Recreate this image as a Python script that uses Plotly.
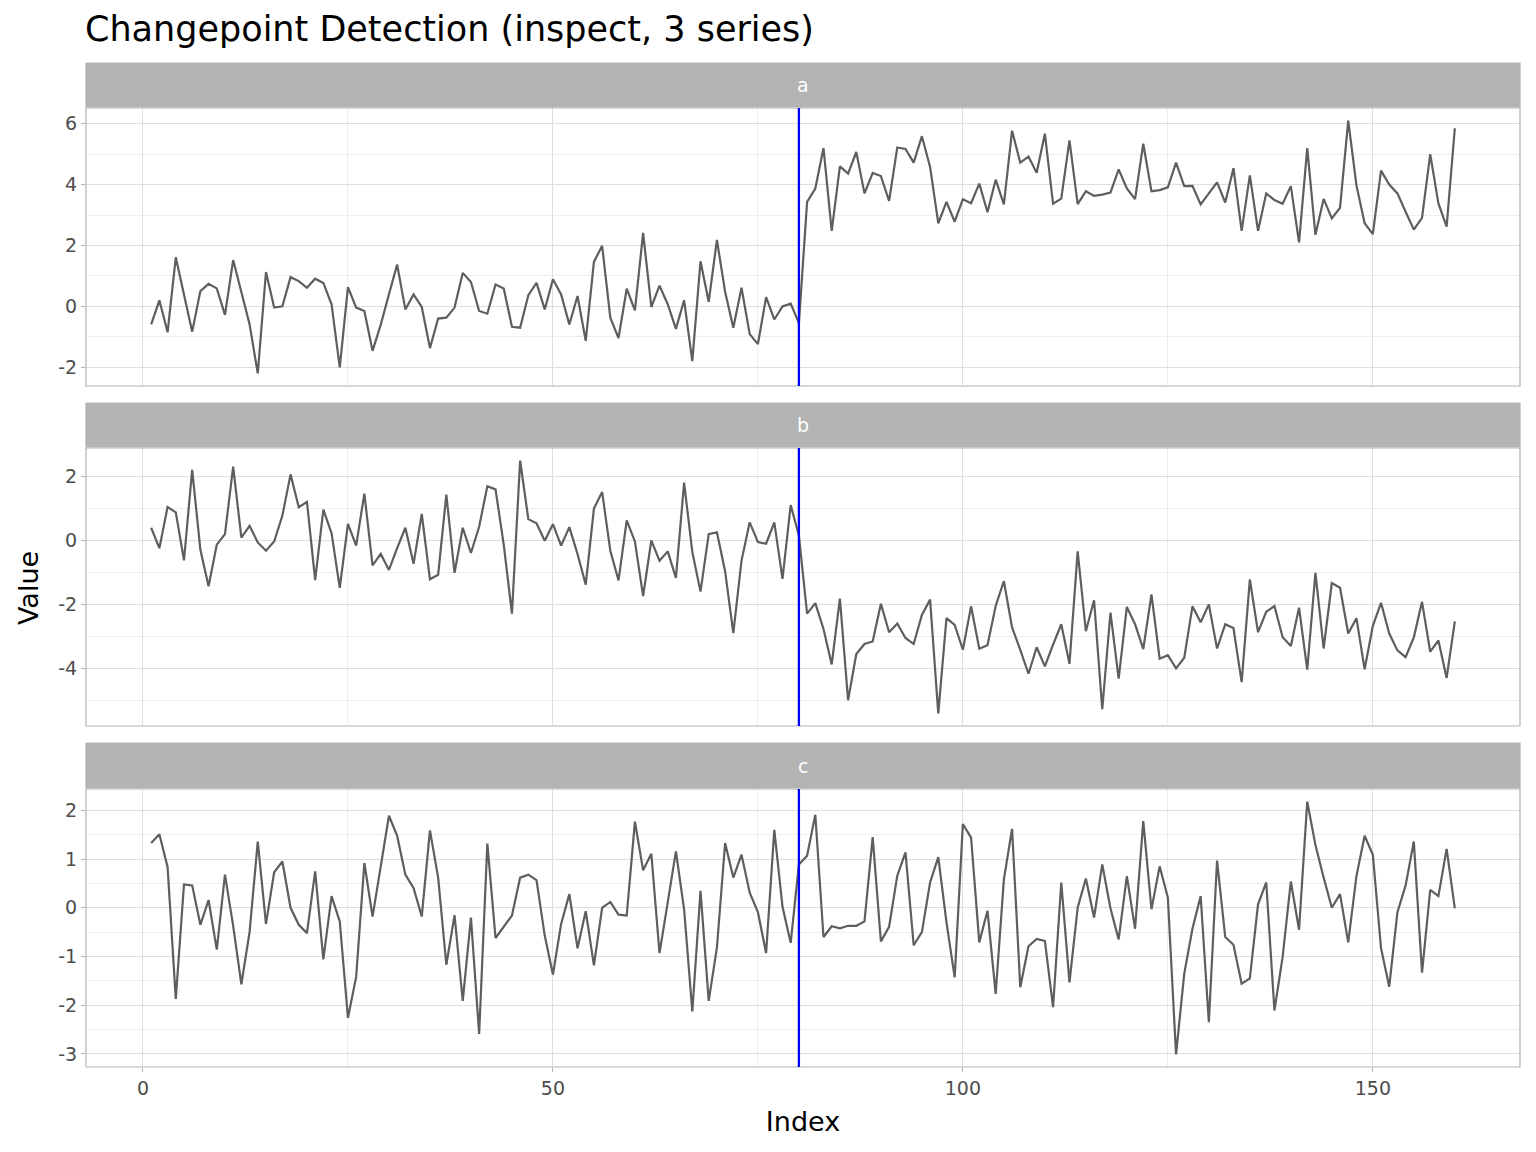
import plotly.graph_objects as go

# ---------------- data ----------------
series_names = ["a", "b", "c"]
changepoint = 80
index = list(range(1, 161))

values_a = [
    -0.59, 0.20, -0.85, 1.61, 0.39, -0.83, 0.50, 0.74, 0.59, -0.28,
    1.52, 0.45, -0.59, -2.20, 1.13, -0.04, 0.00, 0.96, 0.83, 0.61,
    0.91, 0.77, 0.07, -2.00, 0.63, -0.04, -0.15, -1.46, -0.60, 0.40,
    1.37, -0.10, 0.39, -0.02, -1.37, -0.40, -0.37, -0.04, 1.10, 0.80,
    -0.15, -0.24, 0.72, 0.59, -0.67, -0.70, 0.37, 0.77, -0.10, 0.89,
    0.39, -0.59, 0.34, -1.13, 1.46, 1.99, -0.37, -1.04, 0.58, -0.13,
    2.41, -0.02, 0.68, 0.07, -0.74, 0.20, -1.80, 1.48, 0.15, 2.18,
    0.48, -0.70, 0.61, -0.91, -1.24, 0.30, -0.43, 0.00, 0.09, -0.55,
    3.43, 3.87, 5.20, 2.48, 4.60, 4.36, 5.07, 3.71, 4.38, 4.28,
    3.46, 5.22, 5.17, 4.72, 5.59, 4.58, 2.73, 3.43, 2.78, 3.52,
    3.39, 4.03, 3.09, 4.16, 3.35, 5.77, 4.72, 4.92, 4.39, 5.67,
    3.37, 3.54, 5.45, 3.36, 3.78, 3.63, 3.67, 3.74, 4.50, 3.87,
    3.52, 5.34, 3.78, 3.82, 3.91, 4.72, 3.95, 3.96, 3.35, 3.71,
    4.07, 3.41, 4.54, 2.48, 4.30, 2.48, 3.71, 3.49, 3.37, 3.95,
    2.10, 5.20, 2.35, 3.53, 2.89, 3.24, 6.10, 3.98, 2.73, 2.37,
    4.46, 4.00, 3.71, 3.11, 2.52, 2.91, 5.00, 3.38, 2.62, 5.85,
]

values_b = [
    0.40, -0.24, 1.05, 0.88, -0.62, 2.21, -0.29, -1.43, -0.13, 0.20,
    2.31, 0.09, 0.46, -0.06, -0.32, -0.03, 0.78, 2.07, 1.04, 1.21,
    -1.24, 0.97, 0.23, -1.48, 0.52, -0.16, 1.47, -0.78, -0.42, -0.92,
    -0.24, 0.40, -0.73, 0.83, -1.21, -1.07, 1.44, -1.01, 0.40, -0.39,
    0.43, 1.70, 1.60, -0.13, -2.29, 2.50, 0.67, 0.54, -0.01, 0.51,
    -0.16, 0.42, -0.42, -1.38, 1.00, 1.52, -0.32, -1.25, 0.63, -0.03,
    -1.74, 0.00, -0.63, -0.34, -1.17, 1.81, -0.36, -1.60, 0.20, 0.26,
    -0.96, -2.90, -0.63, 0.57, -0.05, -0.10, 0.57, -1.20, 1.11, 0.15,
    -2.29, -1.96, -2.77, -3.88, -1.82, -5.00, -3.55, -3.24, -3.16, -1.98,
    -2.87, -2.60, -3.05, -3.24, -2.33, -1.85, -5.41, -2.43, -2.64, -3.42,
    -2.06, -3.39, -3.28, -2.05, -1.27, -2.72, -3.42, -4.17, -3.34, -3.94,
    -3.26, -2.62, -3.86, -0.34, -2.84, -1.87, -5.28, -2.26, -4.32, -2.08,
    -2.62, -3.40, -1.69, -3.70, -3.59, -4.00, -3.67, -2.06, -2.56, -2.00,
    -3.38, -2.62, -2.74, -4.43, -1.22, -2.87, -2.23, -2.05, -3.03, -3.30,
    -2.10, -4.04, -1.01, -3.38, -1.33, -1.48, -2.91, -2.43, -4.03, -2.67,
    -1.95, -2.91, -3.44, -3.65, -3.03, -1.92, -3.48, -3.13, -4.30, -2.53,
]

values_c = [
    1.33, 1.51, 0.84, -1.87, 0.48, 0.46, -0.35, 0.16, -0.86, 0.68,
    -0.37, -1.57, -0.50, 1.36, -0.33, 0.73, 0.95, 0.00, -0.35, -0.52,
    0.75, -1.06, 0.24, -0.28, -2.26, -1.42, 0.92, -0.18, 0.85, 1.89,
    1.48, 0.68, 0.41, -0.18, 1.59, 0.62, -1.17, -0.15, -1.91, -0.20,
    -2.59, 1.32, -0.62, -0.40, -0.16, 0.62, 0.68, 0.57, -0.57, -1.37,
    -0.33, 0.28, -0.83, -0.07, -1.18, 0.00, 0.12, -0.14, -0.16, 1.77,
    0.77, 1.11, -0.93, 0.11, 1.16, -0.03, -2.13, 0.35, -1.91, -0.82,
    1.33, 0.62, 1.09, 0.31, -0.09, -0.93, 1.60, 0.02, -0.72, 0.89,
    1.07, 1.91, -0.60, -0.38, -0.42, -0.37, -0.37, -0.28, 1.45, -0.69,
    -0.39, 0.66, 1.14, -0.77, -0.50, 0.52, 1.04, -0.30, -1.43, 1.72,
    1.44, -0.71, -0.06, -1.77, 0.58, 1.62, -1.63, -0.79, -0.64, -0.68,
    -2.04, 0.52, -1.53, 0.00, 0.60, -0.20, 0.89, -0.01, -0.65, 0.65,
    -0.43, 1.78, -0.03, 0.85, 0.21, -3.01, -1.35, -0.43, 0.24, -2.35,
    0.97, -0.60, -0.76, -1.56, -1.45, 0.07, 0.52, -2.11, -1.01, 0.54,
    -0.45, 2.18, 1.29, 0.62, 0.00, 0.28, -0.71, 0.65, 1.48, 1.09,
    -0.83, -1.62, -0.09, 0.46, 1.36, -1.33, 0.37, 0.24, 1.21, -0.01,
]

x_ticks = [0, 50, 100, 150]
x_minor = [25, 75, 125]
y_ticks = {
    "a": [-2, 0, 2, 4, 6],
    "b": [-4, -2, 0, 2],
    "c": [-3, -2, -1, 0, 1, 2],
}
y_minor = {
    "a": [-1, 1, 3, 5],
    "b": [-5, -3, -1, 1],
    "c": [-2.5, -1.5, -0.5, 0.5, 1.5],
}

all_values = {"a": values_a, "b": values_b, "c": values_c}

# ---------------- layout geometry (pixels) ----------------
W, H = 1536, 1152
left_px, right_px = 86, 1520
panels_px = {  # (strip_top, strip_bottom, plot_top, plot_bottom)
    "a": (63, 107, 108, 386),
    "b": (403, 447, 448, 726),
    "c": (743, 788, 789, 1067),
}

LINE_COL = "#5e5e5e"
GRID_MAJOR = "#dedede"
GRID_MINOR = "#eeeeee"
BORDER = "#b3b3b3"
FONT = "DejaVu Sans"

fig = go.Figure()
xr_pad = (max(index) - min(index)) * 0.05
x_range = [min(index) - xr_pad, max(index) + xr_pad]

shapes = []
annotations = []
layout_axes = {}

for k, name in enumerate(series_names):
    n = k + 1
    xa = "x" if n == 1 else f"x{n}"
    ya = "y" if n == 1 else f"y{n}"
    vals = all_values[name]
    fig.add_trace(go.Scatter(
        x=index, y=vals, mode="lines", xaxis=xa, yaxis=ya,
        line=dict(color=LINE_COL, width=2.2), showlegend=False,
        hoverinfo="skip",
    ))
    vmin, vmax = min(vals), max(vals)
    pad = (vmax - vmin) * 0.05
    y_range = [vmin - pad, vmax + pad]

    st, sb, pt, pb = panels_px[name]
    dom_y = [1 - pb / H, 1 - pt / H]
    dom_x = [left_px / W, right_px / W]
    is_bottom = n == len(series_names)

    layout_axes[f"xaxis{'' if n == 1 else n}"] = dict(
        domain=dom_x, range=x_range, anchor=ya,
        tickvals=x_ticks, ticktext=[str(t) for t in x_ticks],
        showticklabels=is_bottom, ticks="outside" if is_bottom else "",
        ticklen=4, tickcolor=BORDER,
        showgrid=True, gridcolor=GRID_MAJOR, gridwidth=1.2,
        minor=dict(tickvals=x_minor, showgrid=True, gridcolor=GRID_MINOR, gridwidth=0.8),
        zeroline=False, showline=False,
        tickfont=dict(family=FONT, size=19, color="#4d4d4d"),
        title=dict(text="Index" if is_bottom else "", font=dict(family=FONT, size=27, color="black"), standoff=14),
    )
    layout_axes[f"yaxis{'' if n == 1 else n}"] = dict(
        domain=dom_y, range=y_range, anchor=xa,
        tickvals=y_ticks[name], ticktext=[str(t) for t in y_ticks[name]],
        ticks="outside", ticklen=4, tickcolor=BORDER,
        showgrid=True, gridcolor=GRID_MAJOR, gridwidth=1.2,
        minor=dict(tickvals=y_minor[name], showgrid=True, gridcolor=GRID_MINOR, gridwidth=0.8),
        zeroline=False, showline=False,
        tickfont=dict(family=FONT, size=19, color="#4d4d4d"),
    )
    # panel border
    shapes.append(dict(type="rect", xref="paper", yref="paper",
                       x0=dom_x[0], x1=dom_x[1], y0=dom_y[0], y1=dom_y[1],
                       line=dict(color=BORDER, width=1.2), fillcolor="rgba(0,0,0,0)", layer="above"))
    # strip
    shapes.append(dict(type="rect", xref="paper", yref="paper",
                       x0=dom_x[0], x1=dom_x[1], y0=1 - sb / H, y1=1 - st / H,
                       line=dict(color=BORDER, width=1.2), fillcolor="#b3b3b3", layer="above"))
    annotations.append(dict(text=name, xref="paper", yref="paper",
                            x=(dom_x[0] + dom_x[1]) / 2, y=1 - (st + sb) / 2 / H,
                            showarrow=False, xanchor="center", yanchor="middle",
                            font=dict(family=FONT, size=19, color="white")))
    # changepoint line
    shapes.append(dict(type="line", xref=xa, yref=f"{ya} domain",
                       x0=changepoint, x1=changepoint, y0=0, y1=1,
                       line=dict(color="blue", width=2.3), layer="above"))

annotations.append(dict(text="Value", xref="paper", yref="paper",
                        x=28 / W, y=1 - 588 / H, textangle=-90, showarrow=False,
                        xanchor="center", yanchor="middle",
                        font=dict(family=FONT, size=27, color="black")))

fig.update_layout(
    width=W, height=H,
    margin=dict(l=0, r=0, t=0, b=0),
    paper_bgcolor="white", plot_bgcolor="white",
    title=dict(text="Changepoint Detection (inspect, 3 series)",
               x=85 / W, xanchor="left", y=1 - 29 / H, yanchor="middle",
               font=dict(family=FONT, size=35, color="black")),
    shapes=shapes, annotations=annotations,
    **layout_axes,
)

fig.write_html("out.html")
